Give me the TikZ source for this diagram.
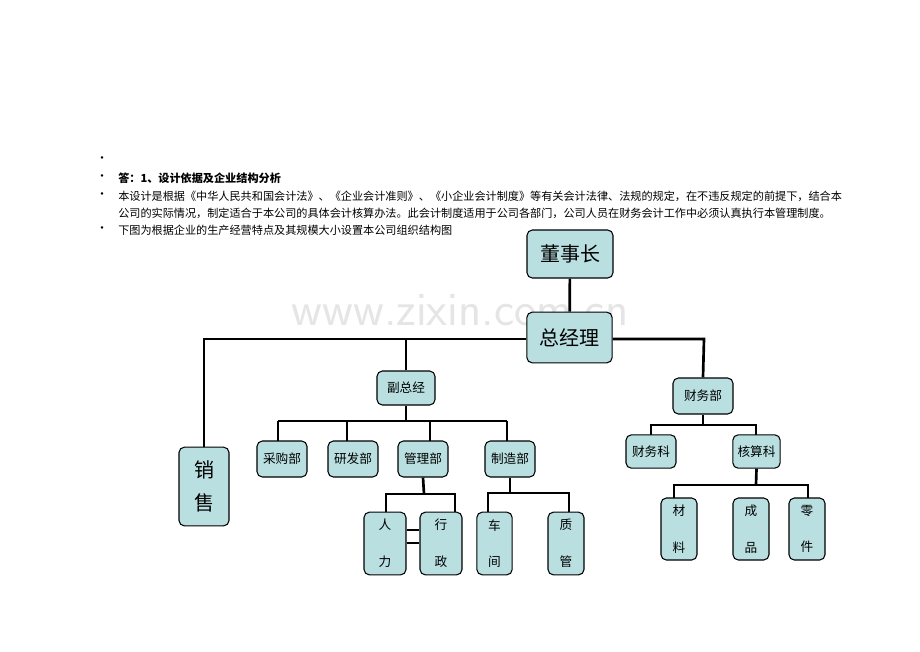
\documentclass[tikz,border=0pt]{standalone}
\usepackage{fontspec}
\newfontfamily\cjk{Noto Sans CJK SC}
\definecolor{boxc}{HTML}{B9DFE0}
\pgfdeclarelayer{bg}
\pgfsetlayers{bg,main}
\begin{document}
\begin{tikzpicture}[x=0.75pt,y=-0.75pt,
  bx/.style={draw=black,fill=boxc,rounded corners=4pt,line width=0.8pt,inner sep=0pt,font=\cjk},
  ln/.style={line width=2pt},
  tx/.style={anchor=west,font=\cjk\fontsize{8.35}{9}\selectfont,inner sep=0pt}]
\useasboundingbox (0,0) rectangle (920,651);
% text
\foreach \yy/\nm in {160/b1,178/b2,196/b3,230/b4}{\node[font=\cjk\fontsize{9}{9}\selectfont,inner sep=0pt] (\nm) at (102,\yy) {•};}
\node[tx,font=\cjk\bfseries\fontsize{8.35}{9}\selectfont] (t1) at (118,178) {答：1、设计依据及企业结构分析};
\node[tx] (t2) at (118,196) {本设计是根据《中华人民共和国会计法》、《企业会计准则》、《小企业会计制度》等有关会计法律、法规的规定，在不违反规定的前提下，结合本};
\node[tx] (t3) at (118,213) {公司的实际情况，制定适合于本公司的具体会计核算办法。此会计制度适用于公司各部门，公司人员在财务会计工作中必须认真执行本管理制度。};
\node[tx] (t4) at (118,230) {下图为根据企业的生产经营特点及其规模大小设置本公司组织结构图};
% boxes
\node[bx,minimum width=64.5pt,minimum height=36pt,font=\cjk\fontsize{15}{15}\selectfont] (dsz) at (570,254) {董事长};
\node[bx,minimum width=64pt,minimum height=38pt,font=\cjk\fontsize{15}{15}\selectfont] (zjl) at (569.5,337.5) {总经理};
\node[bx,minimum width=37.5pt,minimum height=59pt,font=\cjk\fontsize{15}{15}\selectfont,align=center] (xs) at (204,486.5) {销\\[10pt]售};
\node[bx,minimum width=43.5pt,minimum height=25.5pt,font=\cjk\fontsize{9.5}{9.5}\selectfont] (fzj) at (406,388) {副总经};
\node[bx,minimum width=45pt,minimum height=27pt,font=\cjk\fontsize{9.5}{9.5}\selectfont] (cwb) at (703,396) {财务部};
\foreach \n/\xx/\t in {cgb/282/采购部,yfb/353/研发部,glb/423/管理部,zzb/510/制造部}
  \node[bx,minimum width=37.5pt,minimum height=27pt,font=\cjk\fontsize{9.5}{9.5}\selectfont] (\n) at (\xx,459) {\t};
\node[bx,minimum width=37.5pt,minimum height=25pt,font=\cjk\fontsize{9.5}{9.5}\selectfont] (cwk) at (651,451.5) {财务科};
\node[bx,minimum width=35.5pt,minimum height=25pt,font=\cjk\fontsize{9.5}{9.5}\selectfont] (hsk) at (756.5,451.5) {核算科};
\foreach \n/\xx/\w/\a/\b in {rl/385/31.5/人/力,xz/441/31.5/行/政,cj/494.5/26.5/车/间,zg/566/27/质/管}
  \node[bx,minimum width=\w pt,minimum height=47pt,font=\cjk\fontsize{9.5}{9.5}\selectfont,align=center] (\n) at (\xx,543.5) {\a\\[18pt]\b};
\foreach \n/\xx/\a/\b in {cl/679/材/料,cp/751/成/品,lj/807/零/件}
  \node[bx,minimum width=27pt,minimum height=46.5pt,font=\cjk\fontsize{9.5}{9.5}\selectfont,align=center] (\n) at (\xx,529) {\a\\[18pt]\b};
% connectors
\begin{pgfonlayer}{bg}
\node[font=\sffamily\fontsize{36}{40}\selectfont,text=black!10] (wm) at (460,310) {www.zixin.com.cn};
\draw[ln] (dsz) -- (zjl);
\draw[ln] (zjl.west|-0,339) -- (204,339) -- (xs.north);
\draw[ln] (zjl.east|-0,339) -- (704,339) -- (cwb.north);
\draw[ln] (406,339) -- (fzj.north);
\draw[ln] (fzj.south) -- (406,421);
\draw[ln] (278,421) -- (507,421);
\draw[ln] (278,421) -- (278,450);
\draw[ln] (347,421) -- (347,450);
\draw[ln] (430,421) -- (430,450);
\draw[ln] (507,421) -- (507,450);
\draw[ln] (glb.south) -- (424,494);
\draw[ln] (386,520) -- (386,494) -- (455,494) -- (455,520);
\draw[ln] (rl.east|-0,530) -- (xz.west|-0,530);
\draw[ln] (rl.east|-0,543) -- (xz.west|-0,543);
\draw[ln] (zzb.south) -- (510,493);
\draw[ln] (488,520) -- (488,493) -- (569,493) -- (569,520);
\draw[ln] (cwb.south) -- (703,425);
\draw[ln] (651,439) -- (651,425) -- (756,425) -- (756,439);
\draw[ln] (hsk.south) -- (756,485);
\draw[ln] (674,506) -- (674,485) -- (808,485) -- (808,506);
\end{pgfonlayer}
\end{tikzpicture}
\end{document}
